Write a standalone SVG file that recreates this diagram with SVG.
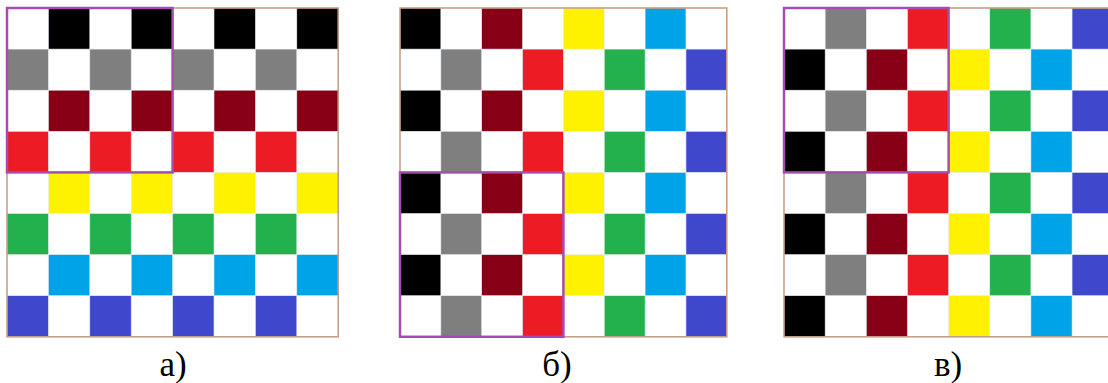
<svg xmlns="http://www.w3.org/2000/svg" width="1108" height="383" viewBox="0 0 1108 383">
<style>
.k{fill:#000000}.g{fill:#7f7f7f}.d{fill:#880015}.r{fill:#ed1c24}.y{fill:#fff200}.n{fill:#22b14c}.c{fill:#00a2e8}.b{fill:#3f48cc}
.cell rect{stroke:#e4ecf2;stroke-width:0.6}
.frame{fill:none;stroke:#c49a80;stroke-width:1.5}
.sel{fill:none;stroke:#a64cae;stroke-width:2.5}
.lbl{font-family:"Liberation Serif","Times New Roman","DejaVu Serif",serif;font-size:35px;fill:#000;text-anchor:middle}
</style>
<rect width="1108" height="383" fill="#ffffff"/>

<g id="grid-a" transform="translate(7,8)">
<g class="cell">
<rect class="k" x="41.4" y="0" width="41.4" height="41.1"/><rect class="k" x="124.2" y="0" width="41.4" height="41.1"/><rect class="k" x="207" y="0" width="41.4" height="41.1"/><rect class="k" x="289.8" y="0" width="41.4" height="41.1"/>
<rect class="g" x="0" y="41.1" width="41.4" height="41.1"/><rect class="g" x="82.8" y="41.1" width="41.4" height="41.1"/><rect class="g" x="165.6" y="41.1" width="41.4" height="41.1"/><rect class="g" x="248.4" y="41.1" width="41.4" height="41.1"/>
<rect class="d" x="41.4" y="82.2" width="41.4" height="41.1"/><rect class="d" x="124.2" y="82.2" width="41.4" height="41.1"/><rect class="d" x="207" y="82.2" width="41.4" height="41.1"/><rect class="d" x="289.8" y="82.2" width="41.4" height="41.1"/>
<rect class="r" x="0" y="123.3" width="41.4" height="41.1"/><rect class="r" x="82.8" y="123.3" width="41.4" height="41.1"/><rect class="r" x="165.6" y="123.3" width="41.4" height="41.1"/><rect class="r" x="248.4" y="123.3" width="41.4" height="41.1"/>
<rect class="y" x="41.4" y="164.4" width="41.4" height="41.1"/><rect class="y" x="124.2" y="164.4" width="41.4" height="41.1"/><rect class="y" x="207" y="164.4" width="41.4" height="41.1"/><rect class="y" x="289.8" y="164.4" width="41.4" height="41.1"/>
<rect class="n" x="0" y="205.5" width="41.4" height="41.1"/><rect class="n" x="82.8" y="205.5" width="41.4" height="41.1"/><rect class="n" x="165.6" y="205.5" width="41.4" height="41.1"/><rect class="n" x="248.4" y="205.5" width="41.4" height="41.1"/>
<rect class="c" x="41.4" y="246.6" width="41.4" height="41.1"/><rect class="c" x="124.2" y="246.6" width="41.4" height="41.1"/><rect class="c" x="207" y="246.6" width="41.4" height="41.1"/><rect class="c" x="289.8" y="246.6" width="41.4" height="41.1"/>
<rect class="b" x="0" y="287.7" width="41.4" height="41.1"/><rect class="b" x="82.8" y="287.7" width="41.4" height="41.1"/><rect class="b" x="165.6" y="287.7" width="41.4" height="41.1"/><rect class="b" x="248.4" y="287.7" width="41.4" height="41.1"/>
</g>
<rect class="frame" x="0" y="0" width="331.2" height="328.8"/>
<rect class="sel" x="0" y="0" width="165.6" height="164.4"/>
</g>

<g id="grid-b" transform="translate(400,8)">
<g class="cell">
<rect class="k" x="0" y="0" width="40.85" height="41.1"/><rect class="k" x="0" y="82.2" width="40.85" height="41.1"/><rect class="k" x="0" y="164.4" width="40.85" height="41.1"/><rect class="k" x="0" y="246.6" width="40.85" height="41.1"/>
<rect class="g" x="40.85" y="41.1" width="40.85" height="41.1"/><rect class="g" x="40.85" y="123.3" width="40.85" height="41.1"/><rect class="g" x="40.85" y="205.5" width="40.85" height="41.1"/><rect class="g" x="40.85" y="287.7" width="40.85" height="41.1"/>
<rect class="d" x="81.7" y="0" width="40.85" height="41.1"/><rect class="d" x="81.7" y="82.2" width="40.85" height="41.1"/><rect class="d" x="81.7" y="164.4" width="40.85" height="41.1"/><rect class="d" x="81.7" y="246.6" width="40.85" height="41.1"/>
<rect class="r" x="122.55" y="41.1" width="40.85" height="41.1"/><rect class="r" x="122.55" y="123.3" width="40.85" height="41.1"/><rect class="r" x="122.55" y="205.5" width="40.85" height="41.1"/><rect class="r" x="122.55" y="287.7" width="40.85" height="41.1"/>
<rect class="y" x="163.4" y="0" width="40.85" height="41.1"/><rect class="y" x="163.4" y="82.2" width="40.85" height="41.1"/><rect class="y" x="163.4" y="164.4" width="40.85" height="41.1"/><rect class="y" x="163.4" y="246.6" width="40.85" height="41.1"/>
<rect class="n" x="204.25" y="41.1" width="40.85" height="41.1"/><rect class="n" x="204.25" y="123.3" width="40.85" height="41.1"/><rect class="n" x="204.25" y="205.5" width="40.85" height="41.1"/><rect class="n" x="204.25" y="287.7" width="40.85" height="41.1"/>
<rect class="c" x="245.1" y="0" width="40.85" height="41.1"/><rect class="c" x="245.1" y="82.2" width="40.85" height="41.1"/><rect class="c" x="245.1" y="164.4" width="40.85" height="41.1"/><rect class="c" x="245.1" y="246.6" width="40.85" height="41.1"/>
<rect class="b" x="285.95" y="41.1" width="40.85" height="41.1"/><rect class="b" x="285.95" y="123.3" width="40.85" height="41.1"/><rect class="b" x="285.95" y="205.5" width="40.85" height="41.1"/><rect class="b" x="285.95" y="287.7" width="40.85" height="41.1"/>
</g>
<rect class="frame" x="0" y="0" width="326.8" height="328.8"/>
<rect class="sel" x="0" y="164.4" width="163.4" height="164.4"/>
</g>

<g id="grid-c" transform="translate(784,8)">
<g class="cell">
<rect class="k" x="0" y="41.1" width="41.15" height="41.1"/><rect class="k" x="0" y="123.3" width="41.15" height="41.1"/><rect class="k" x="0" y="205.5" width="41.15" height="41.1"/><rect class="k" x="0" y="287.7" width="41.15" height="41.1"/>
<rect class="g" x="41.15" y="0" width="41.15" height="41.1"/><rect class="g" x="41.15" y="82.2" width="41.15" height="41.1"/><rect class="g" x="41.15" y="164.4" width="41.15" height="41.1"/><rect class="g" x="41.15" y="246.6" width="41.15" height="41.1"/>
<rect class="d" x="82.3" y="41.1" width="41.15" height="41.1"/><rect class="d" x="82.3" y="123.3" width="41.15" height="41.1"/><rect class="d" x="82.3" y="205.5" width="41.15" height="41.1"/><rect class="d" x="82.3" y="287.7" width="41.15" height="41.1"/>
<rect class="r" x="123.45" y="0" width="41.15" height="41.1"/><rect class="r" x="123.45" y="82.2" width="41.15" height="41.1"/><rect class="r" x="123.45" y="164.4" width="41.15" height="41.1"/><rect class="r" x="123.45" y="246.6" width="41.15" height="41.1"/>
<rect class="y" x="164.6" y="41.1" width="41.15" height="41.1"/><rect class="y" x="164.6" y="123.3" width="41.15" height="41.1"/><rect class="y" x="164.6" y="205.5" width="41.15" height="41.1"/><rect class="y" x="164.6" y="287.7" width="41.15" height="41.1"/>
<rect class="n" x="205.75" y="0" width="41.15" height="41.1"/><rect class="n" x="205.75" y="82.2" width="41.15" height="41.1"/><rect class="n" x="205.75" y="164.4" width="41.15" height="41.1"/><rect class="n" x="205.75" y="246.6" width="41.15" height="41.1"/>
<rect class="c" x="246.9" y="41.1" width="41.15" height="41.1"/><rect class="c" x="246.9" y="123.3" width="41.15" height="41.1"/><rect class="c" x="246.9" y="205.5" width="41.15" height="41.1"/><rect class="c" x="246.9" y="287.7" width="41.15" height="41.1"/>
<rect class="b" x="288.05" y="0" width="41.15" height="41.1"/><rect class="b" x="288.05" y="82.2" width="41.15" height="41.1"/><rect class="b" x="288.05" y="164.4" width="41.15" height="41.1"/><rect class="b" x="288.05" y="246.6" width="41.15" height="41.1"/>
</g>
<rect class="frame" x="0" y="0" width="329.2" height="328.8"/>
<rect class="sel" x="0" y="0" width="164.6" height="164.4"/>
</g>

<g id="labels">
<text class="lbl" x="173" y="376">а)</text>
<text class="lbl" x="557" y="376">б)</text>
<text class="lbl" x="948" y="376">в)</text>
</g>
</svg>
